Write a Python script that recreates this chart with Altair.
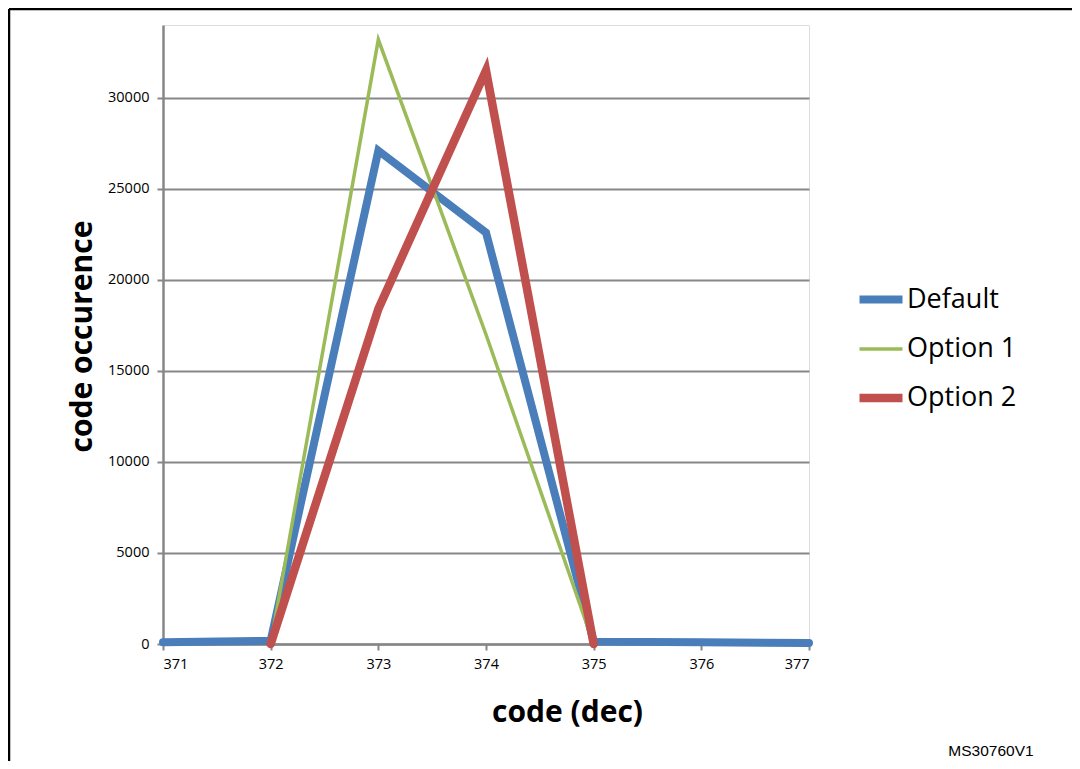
import altair as alt
import pandas as pd

codes_default = [371, 372, 373, 374, 375, 376, 377]
default_vals = [100, 180, 27100, 22600, 130, 100, 50]
codes_opt = [372, 373, 374, 375]
opt1_vals = [0, 33200, 17000, 0]
opt2_vals = [0, 18400, 31500, 0]
series_names = ["Default", "Option 1", "Option 2"]
series_colors = ["#4A7EBB", "#9BBB59", "#C0504D"]
series_widths = [8, 3.5, 8.5]
y_ticks = [0, 5000, 10000, 15000, 20000, 25000, 30000]
x_ticks = [371, 372, 373, 374, 375, 376, 377]

rows = []
for c, v in zip(codes_default, default_vals):
    rows.append({"code": c, "value": v, "series": "Default"})
for c, v in zip(codes_opt, opt1_vals):
    rows.append({"code": c, "value": v, "series": "Option 1"})
for c, v in zip(codes_opt, opt2_vals):
    rows.append({"code": c, "value": v, "series": "Option 2"})
df = pd.DataFrame(rows)

W, H = 646, 619
FONT = "Open Sans"
GRAY = "#878787"

legend = alt.Legend(
    title=None, orient="none", legendX=692, legendY=249,
    symbolType="stroke", symbolSize=1849, labelFontSize=27, labelFont=FONT,
    labelColor="black", rowPadding=9.5, labelOffset=0,
)

lines = alt.Chart(df).mark_line(strokeCap="round", strokeJoin="miter", clip=False).encode(
    x=alt.X("code:Q", scale=alt.Scale(domain=[371, 377], nice=False, zero=False),
            axis=alt.Axis(values=x_ticks, format="d", title="code (dec)",
                          titleFont=FONT, titleFontSize=30, titleFontWeight="bold",
                          titleColor="black", titleX=404, titleY=68,
                          titleBaseline="middle", titleAlign="center",
                          labelFont=FONT, labelFontSize=14.5, labelColor="black",
                          labelPadding=7, tickSize=6, tickColor=GRAY, tickWidth=2,
                          domainColor=GRAY, domainWidth=2.5, grid=False)),
    y=alt.Y("value:Q", scale=alt.Scale(domain=[0, 34000], nice=False),
            axis=alt.Axis(values=y_ticks, format="d", title="code occurence",
                          titleFont=FONT, titleFontSize=30, titleFontWeight="bold",
                          titleColor="black", titleX=-81, titleY=311, titleAngle=-90,
                          titleBaseline="middle", titleAlign="center",
                          labelFont=FONT, labelFontSize=14.5, labelColor="black",
                          labelPadding=8, tickSize=6, tickColor=GRAY, tickWidth=2,
                          domainColor=GRAY, domainWidth=2.5,
                          grid=True, gridColor=GRAY, gridWidth=2)),
    color=alt.Color("series:N", scale=alt.Scale(domain=series_names, range=series_colors),
                    legend=legend),
    strokeWidth=alt.StrokeWidth("series:N",
                                scale=alt.Scale(type="ordinal", domain=series_names, range=series_widths),
                                legend=legend),
)

note = alt.Chart(pd.DataFrame({"t": ["MS30760V1"]})).mark_text(
    font="Liberation Sans", fontSize=15.5, color="black", align="center", baseline="middle"
).encode(text="t:N", x=alt.value(828), y=alt.value(726))

frame_top = alt.Chart(pd.DataFrame({"a": [0]})).mark_rule(color="black", strokeWidth=2.5).encode(
    x=alt.value(-154), x2=alt.value(1000), y=alt.value(-16))
frame_left = alt.Chart(pd.DataFrame({"a": [0]})).mark_rule(color="black", strokeWidth=2.5).encode(
    x=alt.value(-154), y=alt.value(-16), y2=alt.value(800))

chart = alt.layer(lines, note, frame_top, frame_left).properties(
    width=W, height=H,
    autosize=alt.AutoSizeParams(type="none"),
    padding={"left": 155, "top": 17, "right": 263, "bottom": 117},
).configure_view(stroke=None).configure(background="white")

chart.save("out.html", embed_options={"renderer": "svg", "actions": False})
